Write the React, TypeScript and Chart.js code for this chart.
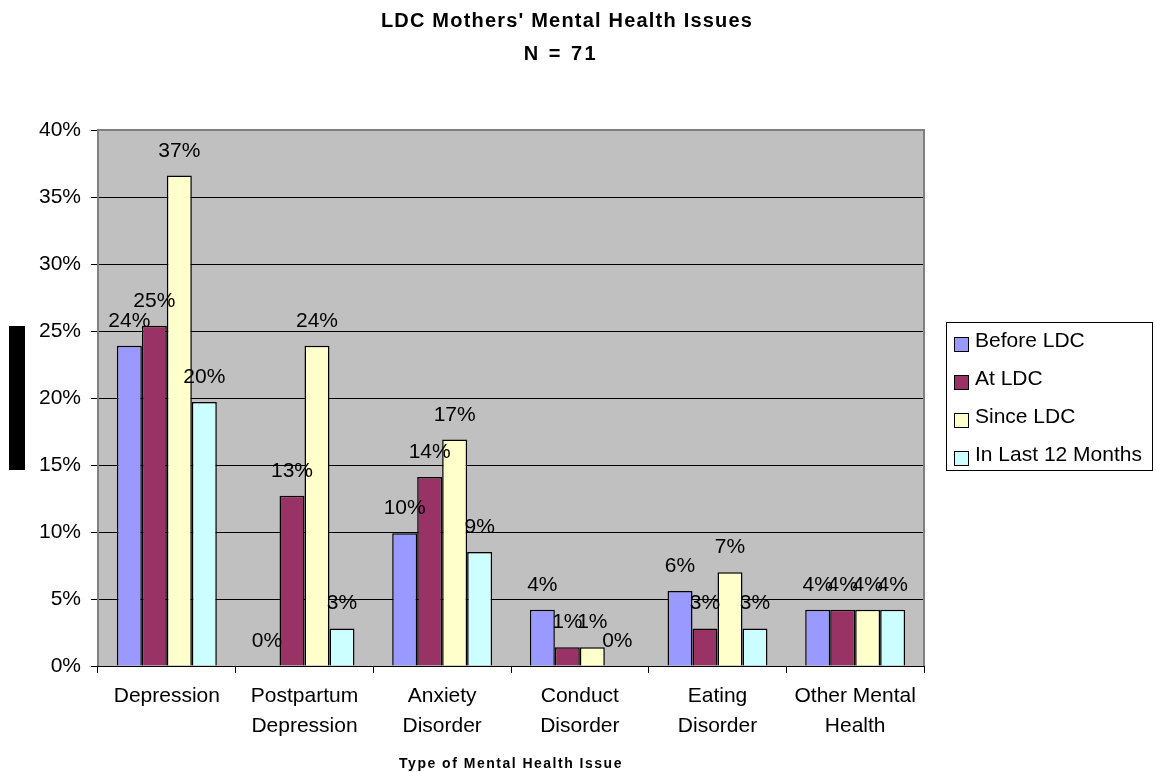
import React, { useEffect, useRef } from "react";
import { Chart, registerables } from "chart.js";

Chart.register(...registerables);

const categories: string[][] = [
  ["Depression"],
  ["Postpartum", "Depression"],
  ["Anxiety", "Disorder"],
  ["Conduct", "Disorder"],
  ["Eating", "Disorder"],
  ["Other Mental", "Health"],
];

const seriesNames = ["Before LDC", "At LDC", "Since LDC", "In Last 12 Months"];
const beforeLDC = [23.9, 0, 9.9, 4.2, 5.6, 4.2];
const atLDC = [25.4, 12.7, 14.1, 1.4, 2.8, 4.2];
const sinceLDC = [36.6, 23.9, 16.9, 1.4, 7.0, 4.2];
const last12Months = [19.7, 2.8, 8.5, 0, 2.8, 4.2];
const yTicks = [0, 5, 10, 15, 20, 25, 30, 35, 40];

const colors = ["#9999FF", "#993366", "#FFFFCC", "#CCFFFF"];
const FONT = '"Liberation Sans", Arial, sans-serif';

export default function App() {
  const ref = useRef<HTMLCanvasElement | null>(null);

  useEffect(() => {
    if (!ref.current) return;
    const seriesValues = [beforeLDC, atLDC, sinceLDC, last12Months];

    const decor = {
      id: "decor",
      beforeDraw(chart: any) {
        const { ctx, chartArea: a } = chart;
        ctx.save();
        ctx.fillStyle = "#FFFFFF";
        ctx.fillRect(0, 0, chart.width, chart.height);
        ctx.fillStyle = "#C0C0C0";
        ctx.fillRect(a.left, a.top, a.right - a.left, a.bottom - a.top);
        ctx.restore();
      },
      beforeDatasetsDraw(chart: any) {
        const { ctx, chartArea: a } = chart;
        ctx.save();
        ctx.strokeStyle = "#808080";
        ctx.lineWidth = 2;
        ctx.beginPath();
        ctx.moveTo(a.left, a.bottom);
        ctx.lineTo(a.left, a.top);
        ctx.lineTo(a.right, a.top);
        ctx.lineTo(a.right, a.bottom);
        ctx.stroke();
        ctx.strokeStyle = "#000000";
        ctx.lineWidth = 1;
        ctx.beginPath();
        ctx.moveTo(a.left, a.bottom + 0.5);
        ctx.lineTo(a.right, a.bottom + 0.5);
        ctx.stroke();
        ctx.restore();
      },
      afterDatasetsDraw(chart: any) {
        const { ctx } = chart;
        ctx.save();
        ctx.font = `21px ${FONT}`;
        ctx.fillStyle = "#000000";
        ctx.textAlign = "center";
        ctx.textBaseline = "alphabetic";
        chart.data.datasets.forEach((ds: any, di: number) => {
          const meta = chart.getDatasetMeta(di);
          meta.data.forEach((bar: any, i: number) => {
            const v = ds.data[i] as number;
            ctx.fillText(`${Math.round(v)}%`, bar.x, bar.y - 19);
          });
        });
        ctx.restore();
      },
      afterDraw(chart: any) {
        const { ctx, chartArea: a } = chart;
        ctx.save();
        // titles
        ctx.fillStyle = "#000000";
        ctx.textAlign = "center";
        ctx.textBaseline = "alphabetic";
        ctx.font = `bold 20px ${FONT}`;
        (ctx as any).letterSpacing = "1.2px";
        ctx.fillText("LDC Mothers' Mental Health Issues", 567, 27);
        (ctx as any).letterSpacing = "2.5px";
        ctx.fillText("N = 71", 561, 60);
        ctx.font = `bold 14px ${FONT}`;
        (ctx as any).letterSpacing = "1.5px";
        ctx.fillText("Type of Mental Health Issue", (a.left + a.right) / 2, 768);
        (ctx as any).letterSpacing = "0px";
        // black block on the left
        ctx.fillStyle = "#000000";
        ctx.fillRect(9, 326, 16, 144);
        // legend
        ctx.fillStyle = "#FFFFFF";
        ctx.fillRect(946.5, 322.5, 206, 148);
        ctx.strokeStyle = "#000000";
        ctx.lineWidth = 1;
        ctx.strokeRect(946.5, 322.5, 206, 148);
        ctx.font = `21px ${FONT}`;
        ctx.textAlign = "left";
        chart.data.datasets.forEach((ds: any, i: number) => {
          const y = 337 + i * 38;
          ctx.fillStyle = ds.backgroundColor;
          ctx.fillRect(954.5, y + 0.5, 14, 14);
          ctx.strokeStyle = "#000000";
          ctx.strokeRect(954.5, y + 0.5, 14, 14);
          ctx.fillStyle = "#000000";
          ctx.fillText(ds.label, 975, 347 + i * 38);
        });
        ctx.restore();
      },
    };

    const chart = new Chart(ref.current, {
      type: "bar",
      data: {
        labels: categories,
        datasets: seriesNames.map((name, i) => ({
          label: name,
          data: seriesValues[i],
          backgroundColor: colors[i],
          borderColor: "#000000",
          borderWidth: 1.5,
          categoryPercentage: 0.726,
          barPercentage: 1,
        })),
      },
      options: {
        animation: false,
        responsive: false,
        maintainAspectRatio: false,
        layout: { padding: { left: 0, right: 232, top: 130, bottom: 0 } },
        plugins: {
          legend: { display: false },
          title: { display: false },
          tooltip: { enabled: false },
        },
        scales: {
          x: {
            grid: {
              display: true,
              drawOnChartArea: false,
              offset: true,
              tickLength: 7,
              color: "#000000",
            },
            border: { display: false },
            ticks: {
              color: "#000000",
              font: { family: FONT, size: 21, lineHeight: "30px" } as any,
              padding: 8,
              maxRotation: 0,
              autoSkip: false,
            },
            afterFit(scale: any) {
              scale.height = 106;
            },
          },
          y: {
            min: 0,
            max: 40,
            afterBuildTicks(scale: any) {
              scale.ticks = yTicks.map((v) => ({ value: v }));
            },
            grid: {
              color: (c: any) => (c.tick && c.tick.value === 40 ? "#808080" : "#000000"),
              tickColor: "#000000",
              tickLength: 7,
              lineWidth: 1,
            },
            border: { display: false },
            ticks: {
              color: "#000000",
              font: { family: FONT, size: 21 },
              padding: 10,
              callback: (v: any) => `${v}%`,
            },
            afterFit(scale: any) {
              scale.width = 98;
            },
          },
        },
      },
      plugins: [decor],
    });
    return () => chart.destroy();
  }, []);

  return (
    <div style={{ position: "absolute", left: 0, top: 0, width: 1156, height: 772 }}>
      <canvas ref={ref} width={1156} height={772} style={{ width: 1156, height: 772 }} />
    </div>
  );
}
